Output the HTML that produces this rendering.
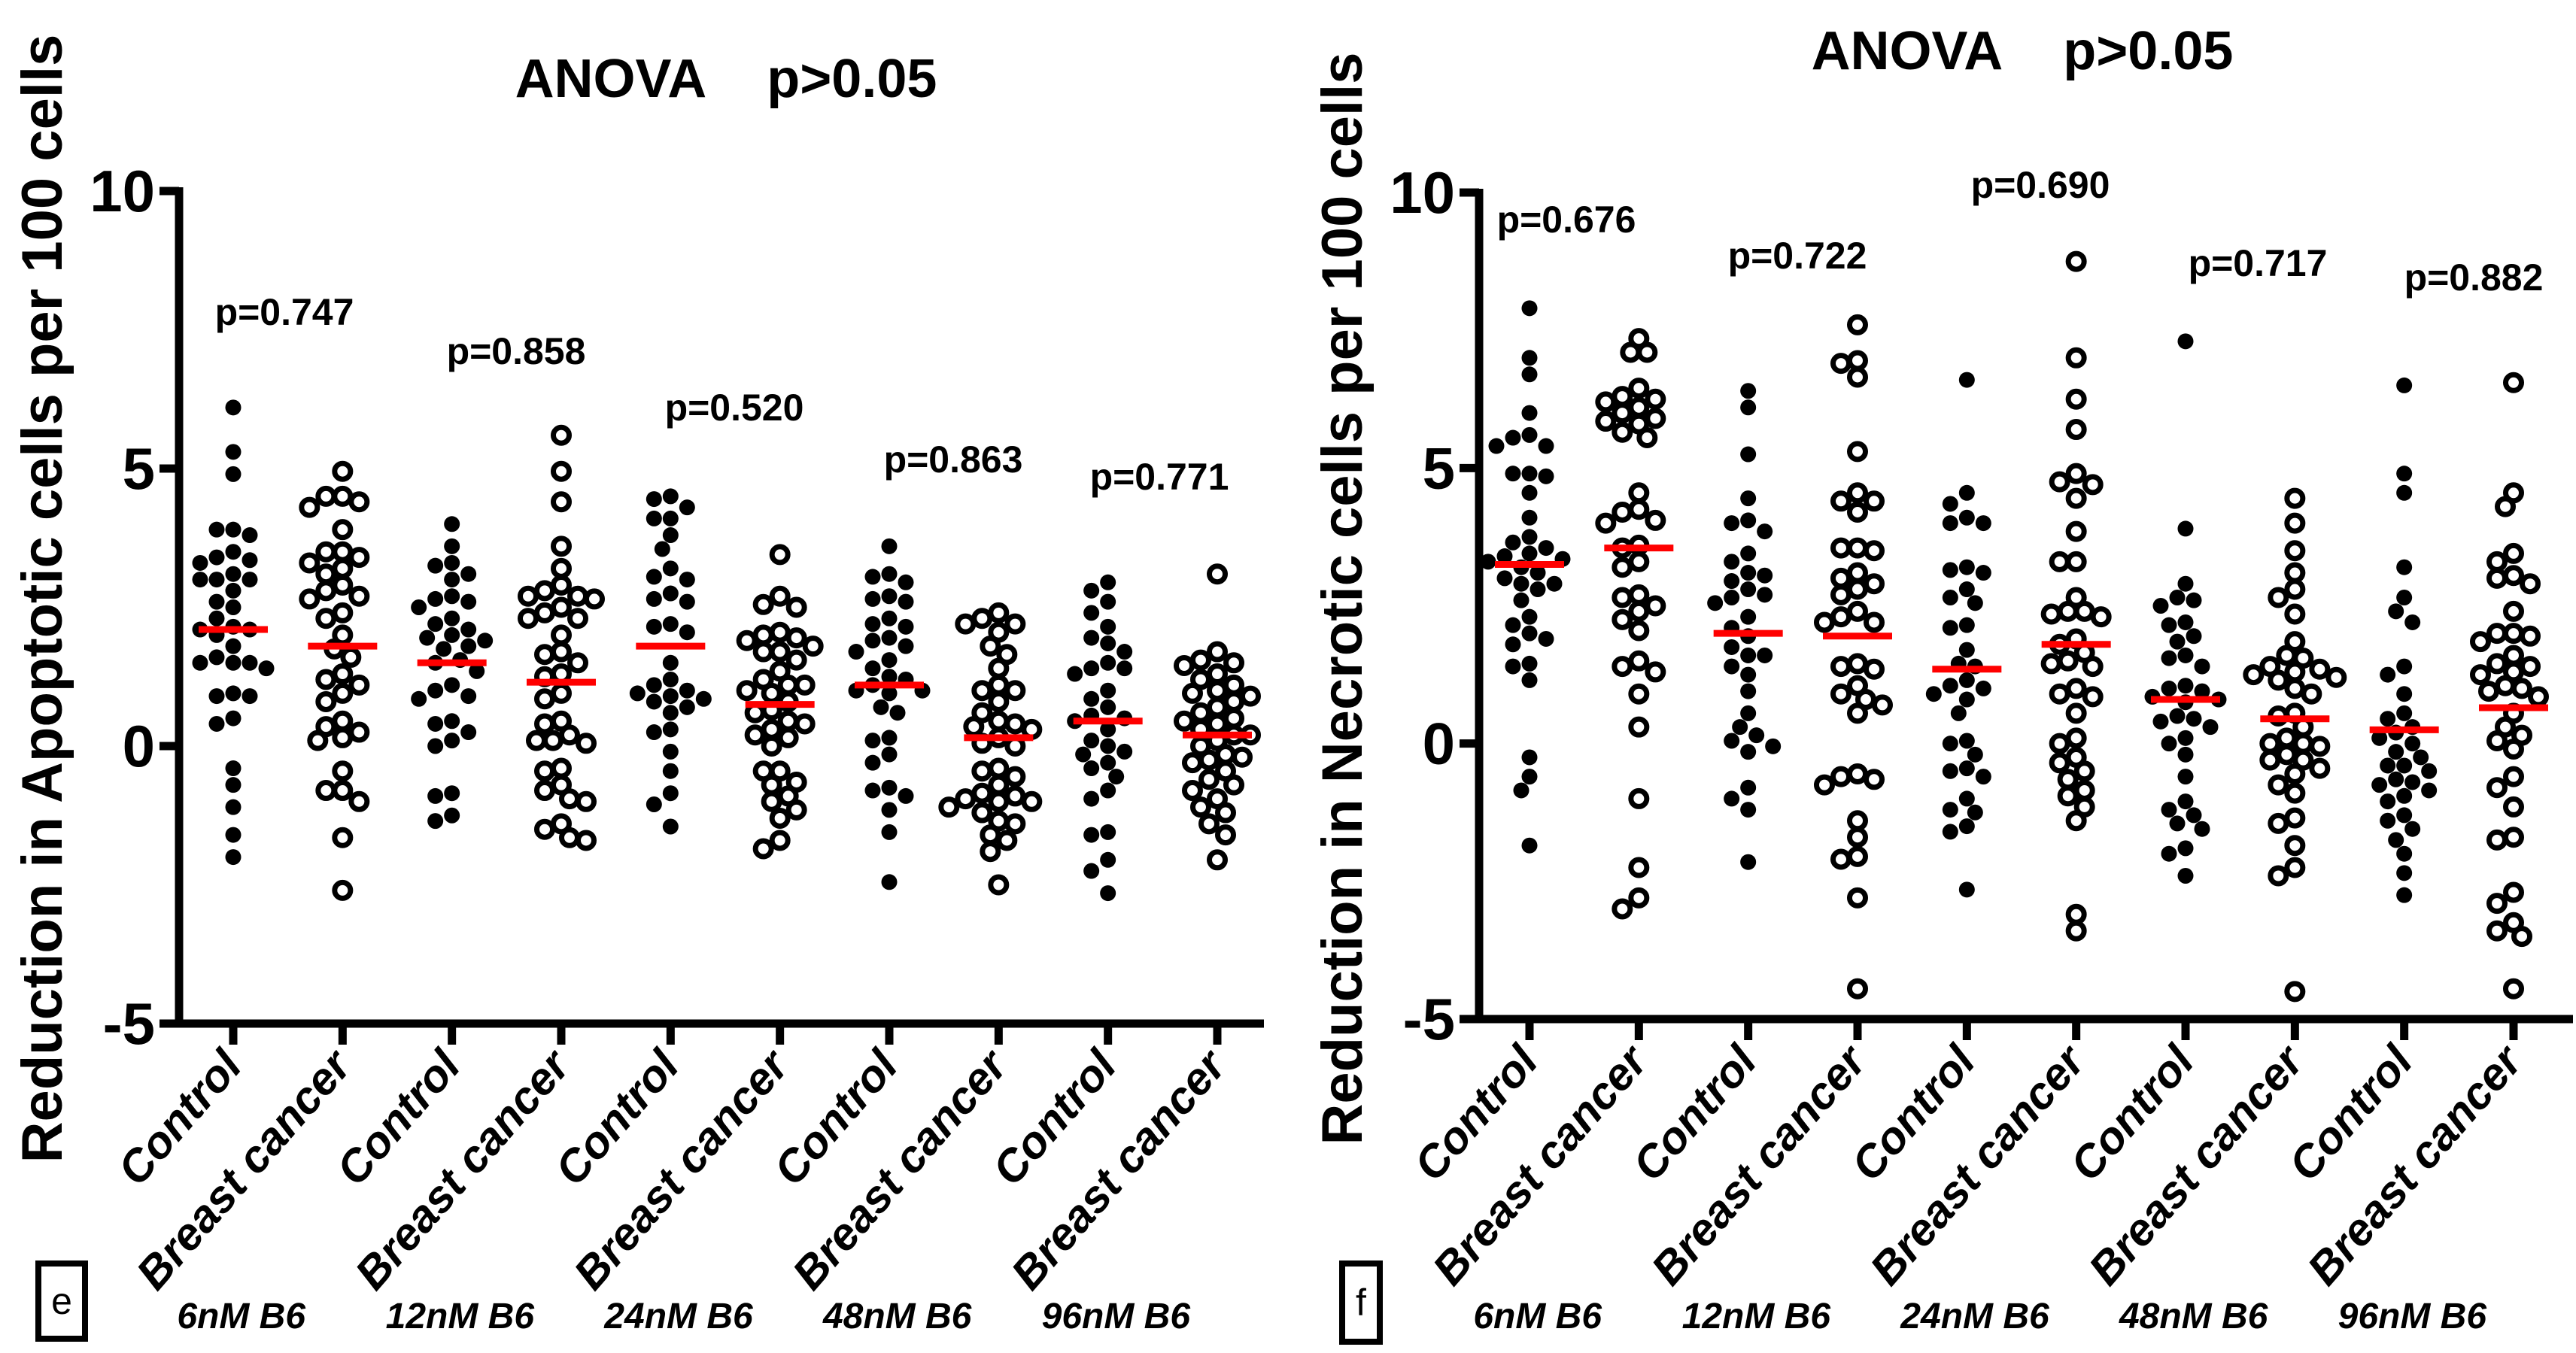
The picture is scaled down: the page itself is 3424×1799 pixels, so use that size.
<!DOCTYPE html>
<html><head><meta charset="utf-8">
<style>
html,body{margin:0;padding:0;background:#fff;}
svg{display:block;font-family:"Liberation Sans",Arial,sans-serif;font-weight:bold;}
</style></head>
<body>
<svg id="chart" width="3424" height="1799" viewBox="0 0 3424 1799"></svg>
<script>
const categories = ["Control","Breast cancer","Control","Breast cancer","Control","Breast cancer","Control","Breast cancer","Control","Breast cancer"];
const doseLabels = ["6nM B6","12nM B6","24nM B6","48nM B6","96nM B6"];
const yTicks = [10,5,0,-5];
const yTickLabels = ["10","5","0","-5"];
const apoptoticPValues = ["p=0.747","p=0.858","p=0.520","p=0.863","p=0.771"];
const necroticPValues = ["p=0.676","p=0.722","p=0.690","p=0.717","p=0.882"];
const apoptoticMeans = [2.1,1.8,1.5,1.15,1.8,0.75,1.1,0.15,0.45,0.2];
const necroticMeans = [3.25,3.55,2.0,1.95,1.35,1.8,0.8,0.45,0.25,0.65];

const apoptoticValues = [
 [6.1,5.3,4.9,3.9,3.8,3.9,3.3,3.35,3.4,3.5,3.0,3.0,3.0,2.8,2.5,2.1,2.1,2.15,2.0,1.8,1.5,1.5,1.5,1.4,0.9,0.9,0.95,0.5,0.4,-0.4,-0.7,-1.1,-1.6,-2.0,2.3,2.6,1.6,3.1],
 [4.95,4.5,4.4,4.5,4.3,3.9,3.5,3.4,3.5,3.2,3.3,2.8,2.7,2.65,2.4,2.3,2.0,1.75,1.3,1.2,1.1,0.95,0.8,0.45,0.35,0.25,0.15,0.1,-0.45,-0.8,-0.8,-1.0,-1.65,-2.6,2.9,1.6,3.1],
 [4.0,3.6,3.3,3.25,3.0,2.65,2.6,2.5,2.3,2.2,1.95,1.9,1.75,1.55,1.35,1.1,1.0,0.85,0.45,0.4,0.25,0.1,0.0,-0.85,-0.9,-1.25,-1.35,2.0,1.8,2.7,2.1,3.1,1.5,0.9],
 [5.6,4.95,4.4,3.6,3.2,2.9,2.7,2.7,2.65,2.5,2.3,2.3,2.0,1.7,1.65,1.3,1.25,0.95,0.85,0.45,0.4,0.2,0.1,0.05,-0.4,-0.45,-0.7,-0.8,-0.95,-1.0,-1.4,-1.5,-1.65,-1.7,2.4,1.5,2.8,0.1],
 [4.45,4.5,4.3,4.1,4.1,3.8,3.55,3.2,3.05,3.0,2.75,2.65,2.6,2.15,2.05,1.5,1.1,0.95,0.85,0.8,0.7,0.6,0.3,0.25,-0.1,-0.45,-0.85,-1.05,-1.45,2.2,1.0,1.2,0.9],
 [3.45,2.7,2.55,2.5,2.05,1.95,1.9,1.8,1.7,1.55,1.35,1.2,1.1,1.0,0.95,0.8,0.65,0.45,0.4,0.3,0.15,0.0,-0.45,-0.45,-0.65,-0.7,-0.9,-1.0,-1.15,-1.3,-1.7,-1.85,2.0,1.1,0.6,1.7,0.2],
 [3.6,3.1,3.05,2.95,2.65,2.6,2.3,2.2,2.15,1.95,1.9,1.7,1.55,1.4,1.25,1.1,1.0,0.95,0.7,0.6,0.15,0.1,-0.15,-0.3,-0.75,-0.8,-0.9,-1.15,-1.55,-2.45,2.7,1.8,1.2,1.0],
 [2.4,2.3,2.2,2.05,1.8,1.65,1.4,1.1,1.0,0.8,0.6,0.45,0.35,0.3,0.15,0.05,0.0,-0.4,-0.45,-0.55,-0.7,-0.85,-0.95,-1.0,-1.1,-1.2,-1.35,-1.4,-1.6,-1.7,-1.9,-2.5,2.2,1.0,0.4,-0.9,-1.0],
 [2.95,2.8,2.6,2.4,2.15,1.95,1.85,1.7,1.5,1.4,1.3,1.0,0.85,0.7,0.55,0.45,0.3,0.1,0.0,-0.15,-0.3,-0.4,-0.55,-0.8,-0.95,-1.55,-1.6,-2.05,-2.25,-2.65,1.4,0.5,-0.1],
 [3.1,1.7,1.55,1.45,1.3,1.2,1.0,0.95,0.8,0.7,0.6,0.45,0.4,0.3,0.2,0.1,0.0,-0.15,-0.25,-0.3,-0.45,-0.6,-0.7,-0.8,-0.95,-1.1,-1.2,-1.4,-1.6,-2.05,1.5,0.9,0.2,-0.2,0.5,1.1]
];
const necroticValues = [
 [7.9,7.0,6.7,6.0,5.55,5.4,5.4,5.6,4.9,4.85,4.9,4.55,4.1,3.75,3.65,3.55,3.45,3.35,3.3,3.1,3.0,2.9,2.8,2.6,2.3,2.15,2.0,1.9,1.8,1.45,1.4,1.15,-0.25,-0.6,-0.85,-1.85,3.2,2.9,3.4],
 [7.35,7.1,7.1,6.45,6.25,6.2,6.1,6.3,5.9,5.85,5.65,5.55,4.55,4.25,4.2,4.05,4.0,3.6,3.55,3.3,3.2,2.7,2.65,2.5,2.4,2.25,2.05,1.5,1.4,1.3,0.9,0.3,-1.0,-2.25,-2.8,-3.0,6.0,5.8],
 [6.4,6.1,5.25,4.45,4.05,4.0,3.85,3.45,3.3,3.1,3.05,2.95,2.7,2.65,2.55,2.3,2.1,1.95,1.75,1.6,1.4,1.25,0.95,0.55,0.3,0.15,0.05,-0.05,-0.15,-0.8,-1.0,-1.2,-2.15,2.8,1.6],
 [7.6,6.95,6.9,6.65,5.3,4.55,4.4,4.2,4.4,3.55,3.5,3.55,3.1,3.0,2.9,2.8,2.7,2.4,2.3,2.2,2.2,1.45,1.4,1.35,1.05,0.9,0.8,0.7,0.55,-0.6,-0.65,-0.75,-0.55,-1.4,-1.7,-2.05,-2.1,-2.8,-4.45],
 [6.6,4.55,4.35,4.1,4.0,4.0,3.2,3.15,3.1,2.8,2.65,2.55,2.1,2.15,1.7,1.45,1.4,1.15,1.05,0.8,0.55,0.05,0.0,-0.2,-0.45,-0.5,-0.6,-1.0,-1.2,-1.25,-1.5,-1.6,-2.65,1.0,0.9],
 [8.75,7.0,6.25,5.7,4.9,4.7,4.45,4.75,3.85,3.3,3.3,2.65,2.4,2.35,2.3,1.9,1.8,1.65,1.45,1.4,1.0,0.9,0.85,0.55,0.1,0.0,-0.25,-0.35,-0.5,-0.65,-0.85,-0.95,-1.15,-1.4,-3.1,-3.4,2.4,1.5],
 [7.3,3.9,2.9,2.65,2.6,2.5,2.2,2.15,1.95,1.85,1.6,1.55,1.4,1.05,0.95,0.85,0.75,0.5,0.45,0.3,0.1,0.0,-0.2,-0.6,-1.05,-1.2,-1.3,-1.45,-1.55,-1.9,-2.0,-2.4,1.0,0.8,0.4],
 [4.45,4.0,3.5,3.1,2.8,2.65,2.35,1.85,1.6,1.55,1.35,1.3,1.25,1.15,1.0,0.9,0.55,0.5,0.3,0.1,0.0,-0.05,-0.2,-0.3,-0.45,-0.55,-0.75,-0.9,-1.35,-1.45,-1.85,-2.25,-2.4,-4.5,1.4,1.2,0.0,-0.3],
 [6.5,4.9,4.55,3.2,2.65,2.4,2.2,1.4,1.25,0.9,0.55,0.45,0.3,0.1,0.0,-0.15,-0.25,-0.4,-0.5,-0.65,-0.75,-0.85,-0.95,-1.05,-1.3,-1.4,-1.55,-1.75,-2.0,-2.35,-2.75,0.2,-0.7,-0.4],
 [6.55,4.55,4.3,3.45,3.3,3.05,2.9,2.4,2.0,2.0,1.95,1.85,1.6,1.45,1.3,1.25,1.05,0.95,0.85,0.55,0.3,0.15,0.05,-0.1,-0.6,-0.8,-1.15,-1.7,-1.75,-2.7,-2.9,-3.25,-3.4,-3.5,-4.45,1.0,1.4,3.0]
];

const NS="http://www.w3.org/2000/svg";
const svg=document.getElementById('chart');
function mk(tag,attrs,parent){const e=document.createElementNS(NS,tag);for(const k in attrs)e.setAttribute(k,attrs[k]);(parent||svg).appendChild(e);return e;}

function drawPanel(cfg){
  const g=mk('g',{});
  
  
  const yScale=v=>cfg.y0+(10-v)*(cfg.y1-cfg.y0)/15;
  const xScale=i=>cfg.xFirst+i*(cfg.xLast-cfg.xFirst)/9;
  const axisY=yScale(-5);
  const t=mk('text',{x:cfg.titleX,y:cfg.titleY,'font-size':72,'text-anchor':'middle'},g);
  t.textContent='ANOVA\u00a0\u00a0\u00a0\u00a0p>0.05';
  
  
  const yt=mk('text',{x:0,y:0,'font-size':76,'text-anchor':'middle',transform:`translate(${cfg.yTitleX},796) rotate(-90)`},g);
  yt.textContent=cfg.yTitle;
  
  
  const ya=mk('line',{x1:cfg.axisX,y1:yScale(10)-5,x2:cfg.axisX,y2:axisY+5,stroke:'#000','stroke-width':11},g);
  
  
  const xa=mk('line',{x1:cfg.axisX-24,y1:axisY,x2:cfg.axisEnd,y2:axisY,stroke:'#000','stroke-width':11},g);
  
  
  yTicks.forEach((v,i)=>{
    const tk=mk('line',{x1:cfg.axisX-26,y1:yScale(v),x2:cfg.axisX,y2:yScale(v),stroke:'#000','stroke-width':11},g);
    
    
    const tl=mk('text',{x:cfg.axisX-32,y:yScale(v)+27,'font-size':78,'text-anchor':'end'},g);
    tl.textContent=yTickLabels[i];
    
    
  });
  categories.forEach((c,i)=>{
    const x=xScale(i);
    const tk=mk('line',{x1:x,y1:axisY,x2:x,y2:axisY+28,stroke:'#000','stroke-width':11},g);
    
    
    const tl=mk('text',{x:0,y:0,'font-size':60,'font-style':'italic','text-anchor':'end',transform:`translate(${x+14},${axisY+58}) rotate(-49)`},g);
    tl.textContent=c;
    
    
  });
  doseLabels.forEach((d,i)=>{
    const dl=mk('text',{x:(xScale(2*i)+xScale(2*i+1))/2-62,y:1766,'font-size':48,'font-style':'italic','text-anchor':'middle'},g);
    dl.textContent=d;
    
    
  });
  cfg.pValues.forEach((p,i)=>{
    const pl=mk('text',{x:cfg.pX[i],y:cfg.pY[i],'font-size':50,'text-anchor':'middle'},g);
    pl.textContent=p;
    
    
  });
  cfg.values.forEach((vals,gi)=>{
    const cx=xScale(gi);
    const open=gi%2===1;
    const sg=mk('g',{},g);
    
    
    const placed=[];
    const sorted=vals.map(v=>v).sort((a,b)=>b-a);
    sorted.forEach(v=>{
      const y=yScale(v);
      let off=0;
      for(let k=0;k<30;k++){
        const o=(k%2===0?1:-1)*Math.ceil(k/2)*11;
        const ok=placed.every(p=>Math.hypot(p[0]-(cx+o),p[1]-y)>=21);
        if(ok){off=o;break;}
      }
      placed.push([cx+off,y]);
      const c=mk('circle',open?{cx:cx+off,cy:y,r:10.5,fill:'#fff',stroke:'#000','stroke-width':7}:{cx:cx+off,cy:y,r:10.5,fill:'#000'},sg);
      
      
    });
    const m=mk('line',{x1:cx-46,y1:yScale(cfg.means[gi]),x2:cx+46,y2:yScale(cfg.means[gi]),stroke:'#ff0000','stroke-width':9},g);
    
    
  });
  const bx=mk('rect',{x:cfg.box[0],y:cfg.box[1],width:cfg.box[2],height:cfg.box[3],fill:'none',stroke:'#000','stroke-width':8},g);
  
  
  const bl=mk('text',{x:cfg.box[0]+cfg.box[2]/2,y:cfg.box[1]+cfg.box[3]/2+17,'font-size':50,'font-weight':'normal','text-anchor':'middle'},g);
  bl.textContent=cfg.letter;
  
  
}

drawPanel({name:'apoptotic-panel',y0:254,y1:1361,axisX:238,axisEnd:1680,xFirst:310,xLast:1618,
  titleX:965,titleY:129,yTitleX:82,yTitle:'Reduction in Apoptotic cells per 100 cells',
  values:apoptoticValues,means:apoptoticMeans,pValues:apoptoticPValues,
  pX:[378,686,976,1267,1541],pY:[432,484,559,628,651],box:[51,1680,62,100],letter:'e'});
drawPanel({name:'necrotic-panel',y0:256,y1:1355,axisX:1966,axisEnd:3420,xFirst:2033,xLast:3341,
  titleX:2688,titleY:92,yTitleX:1810,yTitle:'Reduction in Necrotic cells per 100 cells',
  values:necroticValues,means:necroticMeans,pValues:necroticPValues,
  pX:[2082,2389,2712,3001,3288],pY:[309,357,263,367,386],box:[1784,1680,50,104],letter:'f'});
</script>
</body></html>
